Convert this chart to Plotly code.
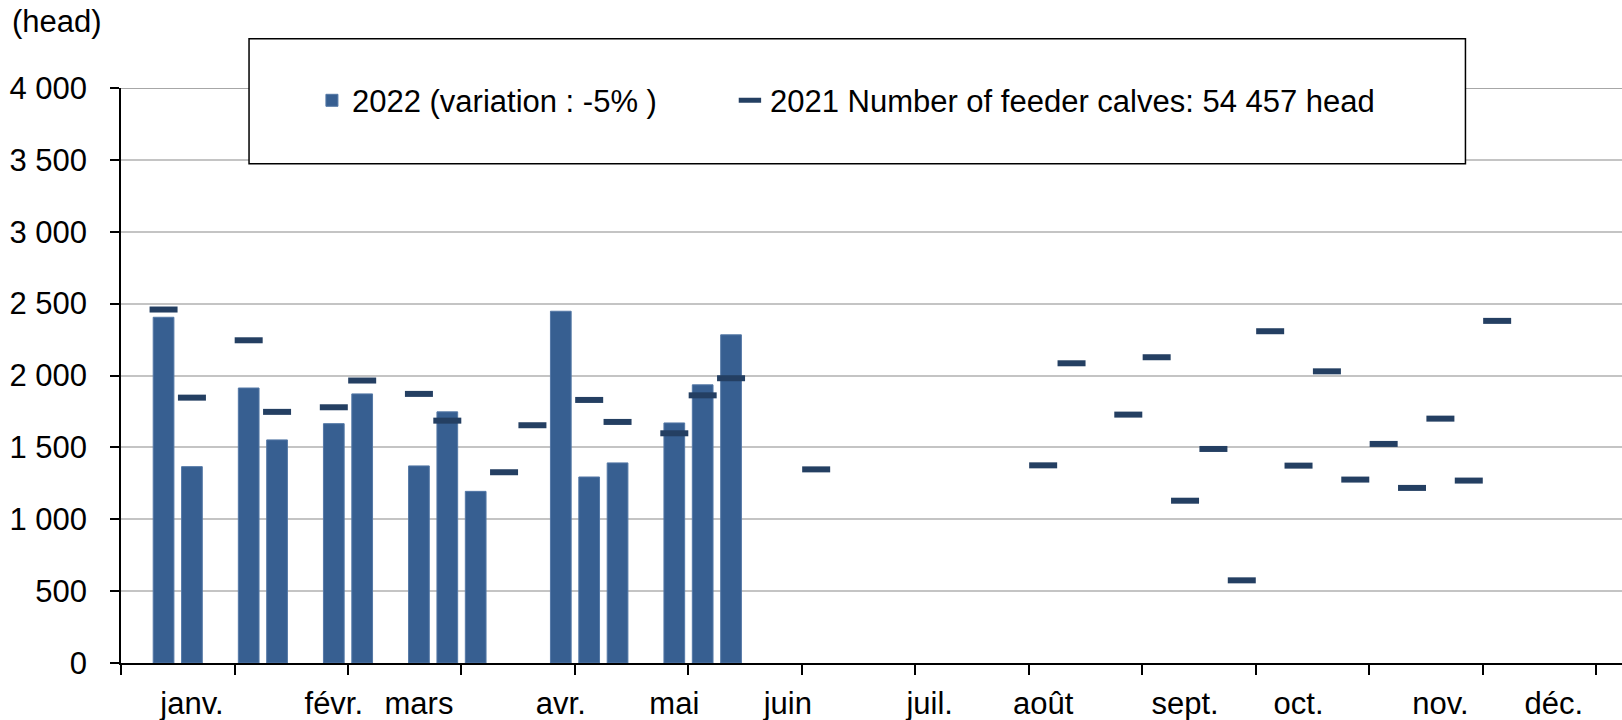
import plotly.graph_objects as go

# Weekly slots (52 weeks), values in head
weeks = list(range(52))

v2022 = [None, 2405, 1366, None, 1913, 1552, None, 1665, 1872, None,
         1371, 1747, 1194, None, None, 2447, 1294, 1392, None, 1670,
         1935, 2283, None, None, None, None, None, None, None, None,
         None, None, None, None, None, None, None, None, None, None,
         None, None, None, None, None, None, None, None, None, None,
         None, None]

v2021 = [None, 2459, 1846, None, 2245, 1747, None, 1779, 1965, None,
         1872, 1686, None, 1327, 1654, None, 1830, 1677, None, 1598,
         1862, 1981, None, None, 1347, None, None, None, None, None,
         None, None, 1375, 2085, None, 1728, 2127, 1129, 1489, 575,
         2308, 1373, 2029, 1276, 1524, 1218, 1700, 1269, 2380, None,
         None, None]

month_pos = [2, 7, 10, 15, 19, 23, 28, 32, 37, 41, 46, 50]
month_labels = ["janv.", "févr.", "mars", "avr.", "mai", "juin", "juil.",
                "août", "sept.", "oct.", "nov.", "déc."]
period_ticks = [-0.5 + 4 * k for k in range(14)]

name_2022 = "2022 (variation : -5% )"
name_2021 = "2021 Number of feeder calves: 54 457 head"

FONT = "Liberation Sans, Arial, sans-serif"
FS = 31

fig = go.Figure()
fig.add_trace(go.Bar(
    x=weeks, y=v2022, name=name_2022, legendwidth=373,
    marker=dict(color="#375F91", line=dict(color="#5478A6", width=1)),
))
fig.add_trace(go.Scatter(
    x=weeks, y=v2021, name=name_2021, mode="markers",
    marker=dict(symbol="line-ew", size=20, color="#243F62",
                line=dict(color="#243F62", width=6)),
))

# legend frame
fig.add_shape(type="rect", xref="paper", yref="paper",
              x0=0.0853, x1=0.8957, y0=0.8683, y1=1.0857,
              line=dict(color="black", width=1.5), fillcolor="white",
              layer="above")
# darker top gridline
fig.add_shape(type="line", xref="paper", yref="y", x0=0, x1=1, y0=4000, y1=4000,
              line=dict(color="#8A8A8A", width=1.5), layer="below")

fig.add_annotation(text="(head)", xref="paper", yref="paper", x=0, y=1.115,
                   xanchor="left", yanchor="middle", xshift=-111, showarrow=False,
                   font=dict(size=FS, color="black", family=FONT))

fig.update_layout(
    width=1622, height=720,
    margin=dict(l=121, r=0, t=88, b=57, autoexpand=False),
    paper_bgcolor="white", plot_bgcolor="white",
    font=dict(family=FONT, size=FS, color="black"),
    separators=", ",
    bargap=0.27,
    showlegend=True,
    legend=dict(orientation="h", x=0.1272, y=0.978, xanchor="left", yanchor="middle",
                bgcolor="rgba(0,0,0,0)", borderwidth=0,
                font=dict(size=FS, family=FONT, color="black")),
    xaxis=dict(range=[-0.5, 52.4], tickmode="array", tickvals=month_pos,
               ticktext=month_labels, ticks="", showgrid=False, zeroline=False,
               showline=True, linecolor="black", linewidth=2, automargin=False,
               ticklabelstandoff=12,
               minor=dict(tickmode="array", tickvals=period_ticks, ticks="outside",
                          ticklen=10, tickwidth=1.5, tickcolor="black", showgrid=False)),
    yaxis=dict(range=[0, 4000], dtick=500, tick0=0, ticks="outside", ticklen=9,
               tickwidth=1.5, tickcolor="black", showline=True, linecolor="black",
               linewidth=1.5, gridcolor="#C4C4C4", gridwidth=1.5, zeroline=False,
               automargin=False,
               separatethousands=True, tickformat=",d", ticklabelstandoff=17),
)

fig.write_html("out.html", config={"displayModeBar": False},
               post_script="document.body.style.margin='0';document.body.style.overflow='hidden';")
